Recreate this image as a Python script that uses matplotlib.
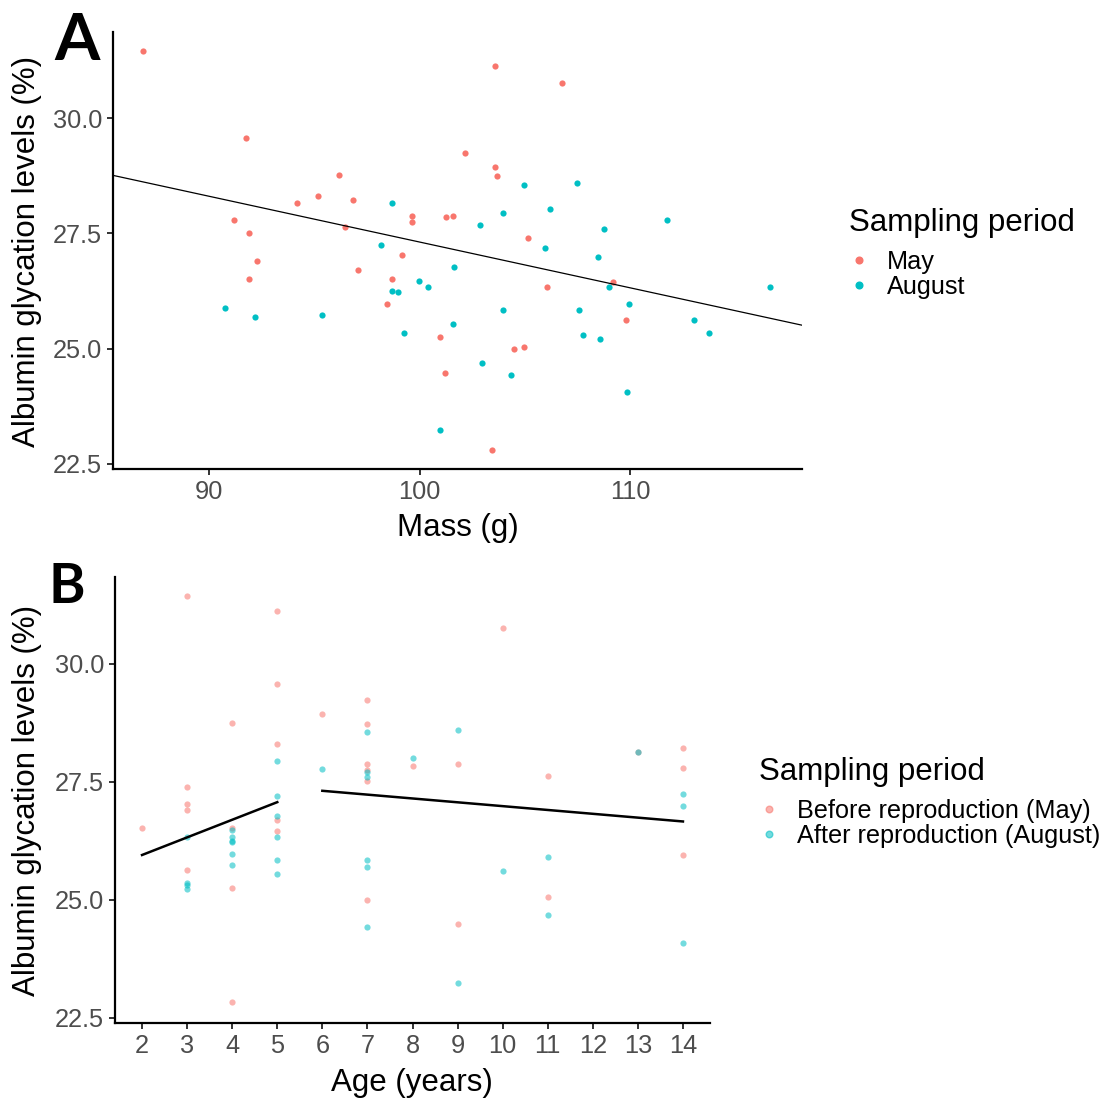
import numpy as np
import matplotlib
matplotlib.use("Agg")
import matplotlib.pyplot as plt
from matplotlib.lines import Line2D

plt.rcParams["font.family"] = ["Liberation Sans", "DejaVu Sans"]

# ── Data: panel A (mass vs albumin glycation) ─────────────────────────────────
mass_may = [86.87, 91.78, 96.19, 95.17, 94.19, 96.86, 91.20, 91.88, 96.48, 99.65,
            99.65, 101.27, 101.58, 92.27, 99.18, 97.09, 91.88, 98.67, 98.47, 100.97,
            101.19, 103.58, 106.78, 102.17, 103.58, 103.67, 105.16, 109.17, 106.05,
            109.79, 104.96, 104.48, 103.45]
alb_may = [31.45, 29.58, 28.76, 28.31, 28.15, 28.23, 27.80, 27.52, 27.64, 27.87,
           27.74, 27.85, 27.87, 26.90, 27.03, 26.70, 26.52, 26.52, 25.96, 25.25,
           24.48, 31.14, 30.77, 29.24, 28.95, 28.74, 27.40, 26.45, 26.33,
           25.63, 25.04, 24.99, 22.81]

mass_aug = [98.67, 98.16, 101.66, 99.98, 100.38, 98.67, 98.99, 90.77, 92.18, 95.39,
            101.58, 99.26, 100.97, 104.96, 107.46, 103.97, 106.18, 102.87, 111.78,
            108.76, 105.97, 108.46, 108.98, 116.66, 103.97, 107.57, 109.94, 113.06,
            113.76, 107.76, 108.57, 102.98, 104.36, 109.87]
alb_aug = [28.15, 27.26, 26.77, 26.47, 26.33, 26.25, 26.22, 25.89, 25.68, 25.73,
           25.54, 25.34, 23.23, 28.56, 28.60, 27.95, 28.02, 27.69, 27.79,
           27.60, 27.19, 26.99, 26.34, 26.34, 25.85, 25.84, 25.96, 25.62,
           25.34, 25.29, 25.22, 24.68, 24.42, 24.07]

# fitted line, panel A (intercept, slope)
fit_a = (37.244, -0.0993)

# ── Data: panel B (age vs albumin glycation) ──────────────────────────────────
age_may = [2, 3, 3, 3, 3, 3, 4, 4, 4, 4, 5, 5, 5, 5, 5, 6, 7, 7, 7, 7, 7, 7,
           8, 9, 9, 10, 11, 11, 13, 14, 14, 14]
albb_may = [26.52, 31.43, 27.40, 27.03, 26.90, 25.64, 28.75, 26.52, 25.25, 22.83,
            31.12, 29.57, 28.30, 26.70, 26.46, 28.94, 29.23, 28.73, 27.88, 27.75,
            27.52, 25.00, 27.84, 27.87, 24.49, 30.76, 27.63, 25.05, 28.14,
            28.22, 27.80, 25.96]

age_aug = [3, 3, 3, 3, 4, 4, 4, 4, 4, 4, 5, 5, 5, 5, 5, 5, 6, 7, 7, 7, 7, 7, 7,
           8, 9, 9, 10, 11, 11, 13, 14, 14, 14]
albb_aug = [26.34, 25.36, 25.31, 25.23, 26.47, 26.34, 26.24, 26.22, 25.97, 25.74,
            27.95, 27.19, 26.77, 26.34, 25.85, 25.54, 27.78, 28.55, 27.71, 27.61,
            25.84, 25.69, 24.43, 28.01, 28.59, 23.23, 25.62, 25.90, 24.68, 28.14,
            27.25, 26.99, 24.08]

# piecewise fit, panel B: (age from, age to, intercept, slope)
fit_b = [(2, 5, 25.203, 0.3733),
         (6, 14, 27.7975, -0.08125)]

RED = "#F8766D"
CYAN = "#00BFC4"
TICK_GREY = "#4D4D4D"
LABEL_SIZE = 22.5
TICK_SIZE = 18.3


def style_axes(ax):
    for side in ("top", "right"):
        ax.spines[side].set_visible(False)
    for side in ("left", "bottom"):
        ax.spines[side].set_linewidth(1.6)
        ax.spines[side].set_color("black")
    ax.tick_params(axis="both", which="major", length=4, width=1.4,
                   color="#333333", labelcolor=TICK_GREY, labelsize=TICK_SIZE, pad=4)
    ax.set_yticks([22.5, 25.0, 27.5, 30.0])
    ax.set_yticklabels(["22.5", "25.0", "27.5", "30.0"])


def add_legend(handles, x, y):
    leg = fig.legend(handles=handles, title="Sampling period", loc="upper left",
                     bbox_to_anchor=(x / 1104, 1 - y / 1101), frameon=False,
                     fontsize=18.2, title_fontsize=22.5, handlelength=0.8,
                     handletextpad=0.7, labelspacing=0.02, borderpad=0)
    leg._legend_box.align = "left"
    leg._legend_box.sep = 9
    return leg


fig = plt.figure(figsize=(11.04, 11.01), dpi=100)

# ── Panel A ───────────────────────────────────────────────────────────────────
axA = fig.add_axes([113 / 1104, 1 - 469 / 1101, 689 / 1104, 437 / 1101])
axA.scatter(mass_may, alb_may, s=20, color=RED, linewidths=0, zorder=3)
axA.scatter(mass_aug, alb_aug, s=20, color=CYAN, linewidths=0, zorder=3)
xs = np.array([85.44, 118.17])
axA.plot(xs, fit_a[0] + fit_a[1] * xs, color="black", lw=0.9, zorder=4)
axA.set_xlim(85.44, 118.17)
axA.set_ylim(22.39, 31.87)
axA.set_xticks([90, 100, 110])
style_axes(axA)

legA = [Line2D([], [], marker="o", ls="", color=RED, markersize=4.8, label="May"),
        Line2D([], [], marker="o", ls="", color=CYAN, markersize=4.8, label="August")]
add_legend(legA, 836, 195)

fig.text(458 / 1104, 1 - 528 / 1101, "Mass (g)", ha="center", va="center",
         fontsize=LABEL_SIZE)
fig.text(27 / 1104, 1 - 251 / 1101, "Albumin glycation levels (%)", rotation=90,
         ha="center", va="center", fontsize=LABEL_SIZE)
fig.text(77 / 1104, 1 - 60 / 1101, "A", ha="center", va="baseline",
         fontsize=47, weight="bold", family=["Lato", "DejaVu Sans"])

# ── Panel B ───────────────────────────────────────────────────────────────────
axB = fig.add_axes([115 / 1104, 1 - 1023 / 1101, 595 / 1104, 446 / 1101])
axB.scatter(age_may, albb_may, s=20, color=RED, alpha=0.55, linewidths=0, zorder=3)
axB.scatter(age_aug, albb_aug, s=20, color=CYAN, alpha=0.55, linewidths=0, zorder=3)
for a0, a1, b0, b1 in fit_b:
    xa = np.array([a0, a1])
    axB.plot(xa, b0 + b1 * xa, color="black", lw=1.8, zorder=4)
axB.set_xlim(1.40, 14.6)
axB.set_ylim(22.39, 31.84)
axB.set_xticks(range(2, 15))
style_axes(axB)

legB = [Line2D([], [], marker="o", ls="", color=RED, alpha=0.55, markersize=4.8,
               label="Before reproduction (May)"),
        Line2D([], [], marker="o", ls="", color=CYAN, alpha=0.55, markersize=4.8,
               label="After reproduction (August)")]
add_legend(legB, 746, 744)

fig.text(412 / 1104, 1 - 1083 / 1101, "Age (years)", ha="center", va="center",
         fontsize=LABEL_SIZE)
fig.text(27 / 1104, 1 - 800 / 1101, "Albumin glycation levels (%)", rotation=90,
         ha="center", va="center", fontsize=LABEL_SIZE)
fig.text(67 / 1104, 1 - 603 / 1101, "B", ha="center", va="baseline",
         fontsize=40, weight="bold", family=["Lato", "DejaVu Sans"])

fig.savefig("out.png", dpi=100, facecolor="white")
